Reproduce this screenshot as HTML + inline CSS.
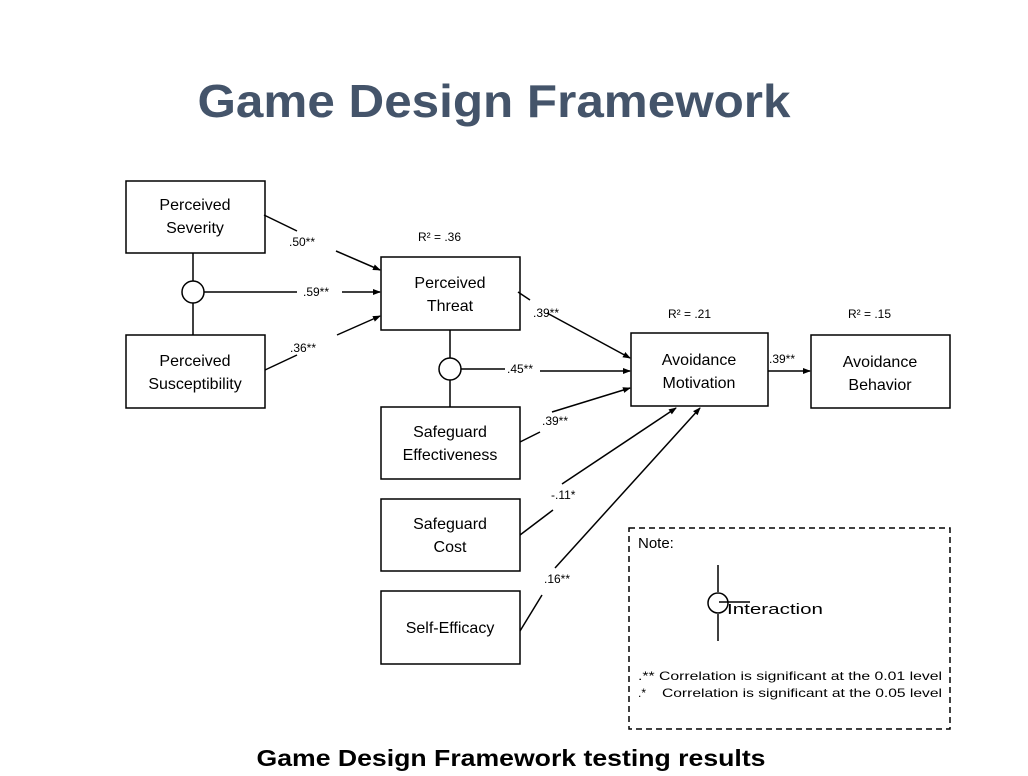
<!DOCTYPE html>
<html><head><meta charset="utf-8"><style>
html,body{margin:0;padding:0;background:#fff;}
svg{display:block;}
</style></head><body>
<svg width="1028" height="776" viewBox="0 0 1028 776" xmlns="http://www.w3.org/2000/svg" font-family="Liberation Sans, DejaVu Sans, sans-serif">
<defs>
<marker id="a" markerWidth="8" markerHeight="8" refX="7" refY="4" orient="auto" markerUnits="userSpaceOnUse">
<path d="M0,1 L8,4 L0,7 z" fill="#000"/></marker>
</defs>
<text x="494" y="117" text-anchor="middle" font-size="46" font-weight="bold" fill="#44546a" textLength="593" lengthAdjust="spacingAndGlyphs">Game Design Framework</text>

<g fill="#fff" stroke="#000" stroke-width="1.5">
<rect x="126" y="181" width="139" height="72"/>
<rect x="126" y="335" width="139" height="73"/>
<rect x="381" y="257" width="139" height="73"/>
<rect x="381" y="407" width="139" height="72"/>
<rect x="381" y="499" width="139" height="72"/>
<rect x="381" y="591" width="139" height="73"/>
<rect x="631" y="333" width="137" height="73"/>
<rect x="811" y="335" width="139" height="73"/>
</g>
<rect x="629" y="528" width="321" height="201" fill="none" stroke="#000" stroke-width="1.5" stroke-dasharray="6,4"/>

<g stroke="#000" stroke-width="1.5" fill="none">
<line x1="193" y1="253" x2="193" y2="281"/>
<line x1="193" y1="303" x2="193" y2="335"/>
<circle cx="193" cy="292" r="11" fill="#fff"/>
<line x1="450" y1="330" x2="450" y2="358"/>
<line x1="450" y1="380" x2="450" y2="407"/>
<circle cx="450" cy="369" r="11" fill="#fff"/>

<line x1="264" y1="215" x2="297" y2="231"/>
<line x1="336" y1="251" x2="380" y2="270" marker-end="url(#a)"/>
<line x1="204" y1="292" x2="297" y2="292"/>
<line x1="342" y1="292" x2="380" y2="292" marker-end="url(#a)"/>
<line x1="265" y1="370" x2="297" y2="355"/>
<line x1="337" y1="335" x2="380" y2="316" marker-end="url(#a)"/>

<line x1="518" y1="292" x2="530" y2="300"/>
<line x1="547" y1="313" x2="630" y2="358" marker-end="url(#a)"/>
<line x1="461" y1="369" x2="505" y2="369"/>
<line x1="540" y1="371" x2="630" y2="371" marker-end="url(#a)"/>
<line x1="520" y1="442" x2="540" y2="432"/>
<line x1="552" y1="412" x2="630" y2="388" marker-end="url(#a)"/>
<line x1="520" y1="535" x2="553" y2="510"/>
<line x1="562" y1="484" x2="676" y2="408" marker-end="url(#a)"/>
<line x1="520" y1="631" x2="542" y2="595"/>
<line x1="555" y1="568" x2="700" y2="408" marker-end="url(#a)"/>
<line x1="768" y1="371" x2="810" y2="371" marker-end="url(#a)"/>

<line x1="718" y1="565" x2="718" y2="592"/>
<line x1="718" y1="614" x2="718" y2="641"/>
<circle cx="718" cy="603" r="10"/>
<line x1="719" y1="602" x2="750" y2="602"/>
</g>

<g font-size="16" text-anchor="middle" fill="#000">
<text x="195" y="210">Perceived</text><text x="195" y="233">Severity</text>
<text x="195" y="366">Perceived</text><text x="195" y="389">Susceptibility</text>
<text x="450" y="288">Perceived</text><text x="450" y="311">Threat</text>
<text x="450" y="437">Safeguard</text><text x="450" y="460">Effectiveness</text>
<text x="450" y="529">Safeguard</text><text x="450" y="552">Cost</text>
<text x="450" y="633">Self-Efficacy</text>
<text x="699" y="365">Avoidance</text><text x="699" y="388">Motivation</text>
<text x="880" y="367">Avoidance</text><text x="880" y="390">Behavior</text>
</g>
<g font-size="12" fill="#000">
<text x="289" y="246">.50**</text>
<text x="303" y="296">.59**</text>
<text x="290" y="352">.36**</text>
<text x="533" y="317">.39**</text>
<text x="507" y="373">.45**</text>
<text x="542" y="425">.39**</text>
<text x="551" y="499">-.11*</text>
<text x="544" y="583">.16**</text>
<text x="769" y="363">.39**</text>
<text x="418" y="241">R² = .36</text>
<text x="668" y="318">R² = .21</text>
<text x="848" y="318">R² = .15</text>
</g>
<text x="638" y="548" font-size="15">Note:</text>
<text x="727" y="614" font-size="15" textLength="96" lengthAdjust="spacingAndGlyphs">Interaction</text>
<text x="638" y="680" font-size="12" textLength="304" lengthAdjust="spacingAndGlyphs">.** Correlation is significant at the 0.01 level</text>
<text x="638" y="697" font-size="12">.*</text>
<text x="662" y="697" font-size="12" textLength="280" lengthAdjust="spacingAndGlyphs">Correlation is significant at the 0.05 level</text>

<text x="511" y="766" text-anchor="middle" font-size="23" font-weight="bold" fill="#000" textLength="509" lengthAdjust="spacingAndGlyphs">Game Design Framework testing results</text>
</svg>
</body></html>
